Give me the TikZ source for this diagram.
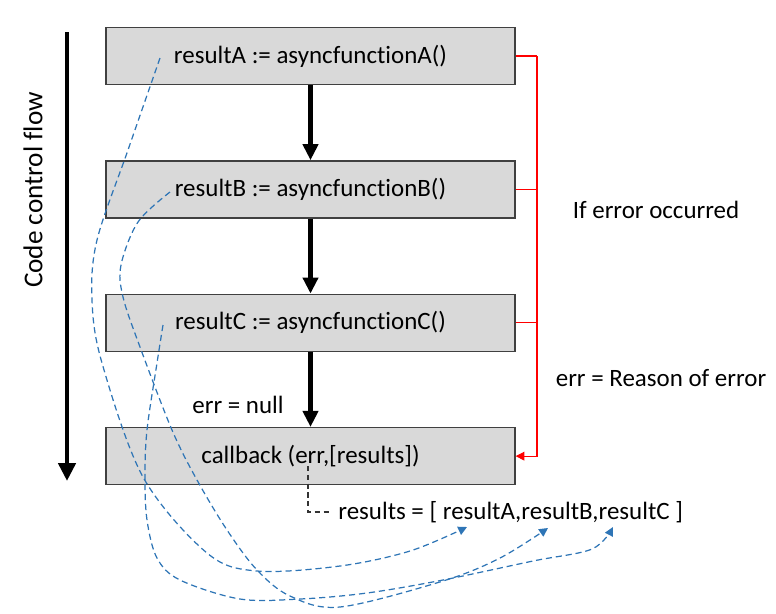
\documentclass[tikz,border=0pt]{standalone}
\usepackage{fontspec}
\setmainfont{Carlito}[Ligatures=NoCommon]
\usetikzlibrary{positioning,arrows.meta}
\definecolor{valblue}{RGB}{46,117,182}

\begin{document}
\begin{tikzpicture}[x=0.02cm,y=-0.02cm]\begin{scope}[
    codebox/.style={rectangle, draw=black!75, fill=gray!30, line width=0.8pt,
        minimum width=8.18cm, minimum height=1.14cm, font=\fontsize{14.2}{16}\selectfont},
    txt/.style={font=\fontsize{14.2}{16}\selectfont},
    flowarr/.style={line width=2.4pt, -{Triangle[length=0.32cm,width=0.3cm]}},
    errline/.style={red, line width=0.6pt},
    resline/.style={black!80, line width=0.6pt, dash pattern=on 3pt off 2pt},
    valline/.style={valblue, line width=0.7pt, dash pattern=on 3.5pt off 2.2pt,
        -{Triangle[length=5pt,width=5pt]}}
]
\useasboundingbox (0,0) rectangle (776,613);
% the four steps
\node[codebox] (bA) at (310.5,56) {resultA := asyncfunctionA()};
\node[codebox, below=1.5cm of bA] (bB) {resultB := asyncfunctionB()};
\node[codebox, below=1.5cm of bB] (bC) {resultC := asyncfunctionC()};
\node[codebox, below=1.5cm of bC] (cb) {callback (err,[results])};
\draw[flowarr] (bA) -- (bB);
\draw[flowarr] (bB) -- (bC);
\draw[flowarr] (bC) -- (cb);
\node[txt] (nulllbl) at (238,405) {err = null};

% code control flow
\coordinate (ftop) at (67,32);
\coordinate (fbot) at (67,481);
\draw[line width=2.8pt, -{Triangle[length=0.36cm,width=0.34cm]}] (ftop) -- (fbot);
\node[txt, font=\fontsize{15.5}{17}\selectfont, rotate=90] (flowlbl) at (33,190) {Code control flow};

% error path
\coordinate (rtop) at (537,56);
\draw[errline] (bA.east) -- (rtop);
\draw[errline, -{Triangle[length=5pt,width=5pt]}] (rtop) |- (cb.east);
\draw[errline] (bB.east) -- (bB.east -| rtop);
\draw[errline] (bC.east) -- (bC.east -| rtop);
\node[txt] (errlbl) at (656,210) {If error occurred};
\node[txt] (reasonlbl) at (661,378) {err = Reason of error};

% results list
\node[txt, anchor=west, inner sep=4pt] (res) at (331,512) {results = [ resultA,resultB,resultC ]};
\coordinate (cbdot) at (308,466);
\draw[resline] (cbdot) |- (res.west);

% where each result goes
\coordinate (sA) at (160,58);
\coordinate (sB) at (170,192);
\coordinate (sC) at (163,325);
\coordinate (tA) at (467,527);
\coordinate (tB) at (548,528);
\coordinate (tC) at (613,527);
\draw[valline] plot[smooth, tension=0.55] coordinates {(sA) (128,150) (97,240) (92,300)
    (102,363) (143,477) (207,553) (257,571) (340,566) (410,551) (tA)};
\draw[valline] plot[smooth, tension=0.55] coordinates {(sB) (138,222) (121,265) (123,297)
    (140,347) (172,430) (197,480) (227,530) (257,570) (290,596) (340,607) (443,581)
    (500,558) (tB)};
\draw[valline] plot[smooth, tension=0.55] coordinates {(sC) (157,363) (147,430) (145,477)
    (147,520) (157,558) (180,580) (240,599) (300,599) (367,593) (443,580) (533,561)
    (592,549) (tC)};
\end{scope}
\end{tikzpicture}
\end{document}
